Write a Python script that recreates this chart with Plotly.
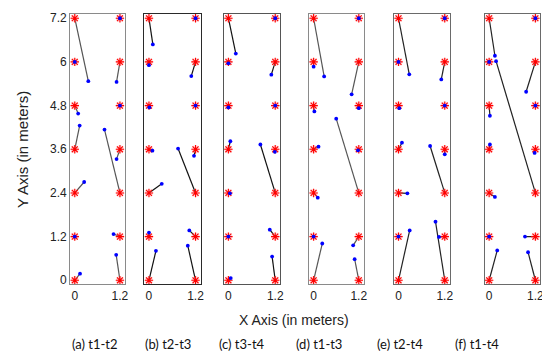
import plotly.graph_objects as go

# grid of initial positions (order: for each y level, x=0 then x=1.2)
grid_x = [0, 1.2] * 7
grid_y = [0, 0, 1.2, 1.2, 2.4, 2.4, 3.6, 3.6, 4.8, 4.8, 6, 6, 7.2, 7.2]

captions = ["(a) t1-t2", "(b) t2-t3", "(c) t3-t4", "(d) t1-t3", "(e) t2-t4", "(f) t1-t4"]
x_ticks = [0, 1.2]
x_tick_labels = ["0", "1.2"]
y_ticks = [0, 1.2, 2.4, 3.6, 4.8, 6, 7.2]
y_tick_labels = ["0", "1.2", "2.4", "3.6", "4.8", "6", "7.2"]

end_x_a = [0.14, 1.10, 0, 1.03, 0.25, 0.79, 0.13, 1.11, 0.09, 1.2, 0, 1.11, 0.36, 1.2]
end_y_a = [0.18, 0.70, 1.2, 1.27, 2.70, 4.14, 4.25, 3.33, 4.58, 4.8, 6, 5.45, 5.47, 7.2]

end_x_b = [0.18, 1.00, 0, 1.04, 0.33, 0.75, 0.09, 1.16, 0.01, 1.2, 0, 1.09, 0.10, 1.2]
end_y_b = [0.81, 0.95, 1.31, 1.37, 2.65, 3.62, 3.56, 3.42, 4.75, 4.8, 5.91, 5.61, 6.48, 7.2]

end_x_c = [0.06, 1.12, 0, 1.06, 0.04, 0.82, 0.05, 1.19, 0, 1.2, 0, 1.10, 0.19, 1.2]
end_y_c = [0.06, 0.65, 1.2, 1.39, 2.39, 3.73, 3.82, 3.53, 4.75, 4.8, 5.96, 5.65, 6.23, 7.2]

end_x_d = [0.23, 1.09, 0, 1.05, 0.11, 0.60, 0.13, 1.18, 0.02, 1.2, 0, 1.01, 0.28, 1.2]
end_y_d = [1.01, 0.58, 1.2, 0.96, 2.27, 4.44, 3.67, 3.57, 4.64, 4.73, 5.87, 5.11, 5.60, 7.2]

end_x_e = [0.29, 0.96, 0, 1.05, 0.23, 0.82, 0.09, 1.2, 0.02, 1.2, 0, 1.11, 0.28, 1.2]
end_y_e = [1.37, 1.61, 1.2, 1.19, 2.39, 3.69, 3.78, 3.46, 4.73, 4.8, 6, 5.52, 5.66, 7.2]

end_x_f = [0.21, 1.01, 0, 0.93, 0.15, 0.18, 0.02, 1.18, 0.02, 1.2, 0, 0.96, 0.15, 1.2]
end_y_f = [0.82, 0.77, 1.2, 1.20, 2.29, 6.02, 3.73, 3.50, 4.52, 4.8, 6, 5.18, 6.17, 7.2]

ends = [(end_x_a, end_y_a), (end_x_b, end_y_b), (end_x_c, end_y_c),
        (end_x_d, end_y_d), (end_x_e, end_y_e), (end_x_f, end_y_f)]

W, H = 550, 353
panel_px = [(62.7, 117.7), (137.3, 194.0), (217.3, 274.3),
            (303.3, 358.3), (388.7, 445.0), (480.0, 536.3)]
y_top_px, y_bot_px = 3.3, 278.0
border_colors = ["#8a8a8a", "#2a2a2a", "#555555", "#8a8a8a", "#6a6a6a", "#6a6a6a"]
line_colors = ["#555555", "#111111", "#111111", "#555555", "#222222", "#222222"]
caption_px = [88, 161, 236, 313, 395, 472]

fig = go.Figure()
layout = dict(
    width=W, height=H, margin=dict(l=0, r=0, t=0, b=0),
    paper_bgcolor="white", plot_bgcolor="white", showlegend=False,
    font=dict(family="Liberation Sans, Arial, sans-serif", color="#222"),
)
annotations = []

for i, (ex, ey) in enumerate(ends):
    n = i + 1
    xa = "x" if n == 1 else f"x{n}"
    ya = "y" if n == 1 else f"y{n}"
    lx, ly = [], []
    for gx, gy, px, py in zip(grid_x, grid_y, ex, ey):
        lx += [gx, px, None]
        ly += [gy, py, None]
    fig.add_trace(go.Scatter(x=lx, y=ly, mode="lines", xaxis=xa, yaxis=ya,
                             line=dict(color=line_colors[i], width=1.2), hoverinfo="skip"))
    fig.add_trace(go.Scatter(x=grid_x, y=grid_y, mode="markers", xaxis=xa, yaxis=ya,
                             marker=dict(symbol="circle", size=8, color="rgba(255,150,150,0.35)",
                                         line=dict(width=0)), cliponaxis=False))
    fig.add_trace(go.Scatter(x=grid_x, y=grid_y, mode="markers", xaxis=xa, yaxis=ya,
                             marker=dict(symbol="asterisk-open", size=7, color="#ff0000",
                                         line=dict(color="#ff0000", width=1.1)), cliponaxis=False))
    fig.add_trace(go.Scatter(x=ex, y=ey, mode="markers", xaxis=xa, yaxis=ya,
                             marker=dict(symbol="circle", size=3.8, color="#0000ff",
                                         line=dict(width=0)), cliponaxis=False))
    x0, x1 = panel_px[i]
    layout["xaxis" if n == 1 else f"xaxis{n}"] = dict(
        domain=[x0 / W, x1 / W], range=[-0.12, 1.33], anchor=ya,
        showgrid=False, zeroline=False, showline=True, mirror=True,
        linecolor=border_colors[i], linewidth=1.3,
        tickvals=x_ticks, ticktext=x_tick_labels, ticks="",
        tickfont=dict(size=12, color="#222"), ticklabelstandoff=0,
    )
    layout["yaxis" if n == 1 else f"yaxis{n}"] = dict(
        domain=[1 - y_bot_px / H, 1 - y_top_px / H], range=[-0.11, 7.31], anchor=xa,
        showgrid=False, zeroline=False, showline=True, mirror=True,
        linecolor=border_colors[i], linewidth=1.3,
        tickvals=y_ticks, ticktext=y_tick_labels, ticks="",
        showticklabels=(n == 1), tickfont=dict(size=12, color="#222"),
    )
    annotations.append(dict(text=captions[i], x=caption_px[i] / W, y=1 - 339 / H,
                            xref="paper", yref="paper", showarrow=False,
                            xanchor="center", yanchor="middle",
                            font=dict(family="Lato, Carlito, sans-serif", size=13, color="#111")))

annotations.append(dict(text="X Axis (in meters)", x=288 / W, y=1 - 314 / H,
                        xref="paper", yref="paper", showarrow=False,
                        xanchor="center", yanchor="middle",
                        font=dict(size=14, color="#222")))
annotations.append(dict(text="Y Axis (in meters)", x=14 / W, y=1 - 140.6 / H,
                        xref="paper", yref="paper", showarrow=False, textangle=-90,
                        xanchor="center", yanchor="middle",
                        font=dict(size=15, color="#222")))
layout["annotations"] = annotations
fig.update_layout(**layout)
fig.write_html("out.html")
